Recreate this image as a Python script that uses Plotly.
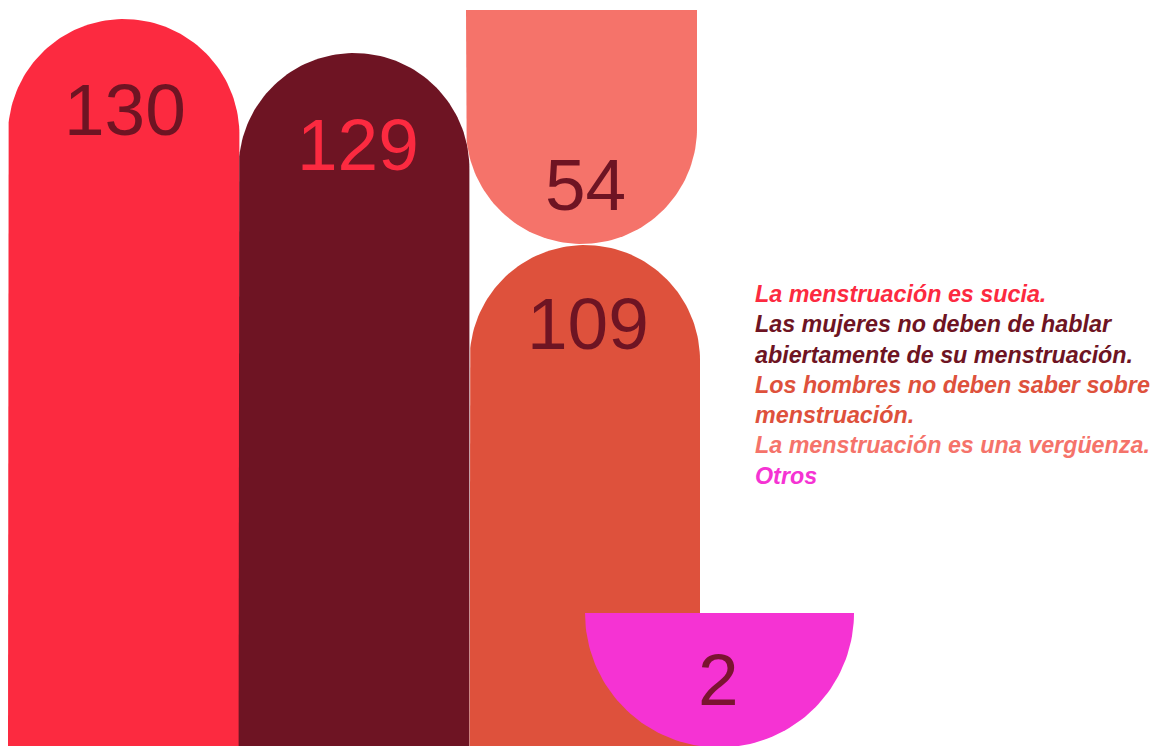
"""
Rounded-bar infographic: beliefs about menstruation.
Canvas axes run in pixel units (y up) so the arcs stay circular.
"""

import numpy as np
import plotly.graph_objects as go

# data
labels = [
    "La menstruación es sucia.",
    "Las mujeres no deben de hablar<br>abiertamente de su menstruación.",
    "Los hombres no deben saber sobre<br>menstruación.",
    "La menstruación es una vergüenza.",
    "Otros",
]
counts = [130, 129, 109, 54, 2]
bar_colors = ["#fc2a40", "#6e1423", "#de513c", "#f5736a", "#f533d3"]
count_colors = ["#6e1423", "#fc2a40", "#6e1423", "#6e1423", "#7a1430"]

# layout of the pieces (pixel canvas, y measured from the bottom)
W, H = 1153, 746
x_left = [8, 238.6, 469.6, 466, 585]
x_right = [239.4, 469.4, 700, 697, 854]
y_flat = [0, 0, 0, 736, 133]        # straight end of each piece
y_round = [727, 693, 501, 502, -1.5]  # apex of the rounded end
label_x = [125, 358, 588, 585, 718]
label_y = [637, 602, 423, 562, 67]

legend_x = 753
legend_top = 467


def rounded_piece(x0, x1, yf, yr):
    r = (x1 - x0) / 2
    cx = (x0 + x1) / 2
    sign = 1 if yr > yf else -1
    cy = yr - sign * r
    t = np.linspace(np.pi, 0, 90)
    xs = [x0] + list(cx + r * np.cos(t)) + [x1, x0]
    ys = [yf] + list(cy + sign * r * np.sin(t)) + [yf, yf]
    return xs, ys


fig = go.Figure()
for i in range(len(counts)):
    xs, ys = rounded_piece(x_left[i], x_right[i], y_flat[i], y_round[i])
    fig.add_trace(go.Scatter(
        x=xs, y=ys, mode="lines", fill="toself",
        fillcolor=bar_colors[i], line=dict(width=0),
        hoverinfo="skip", showlegend=False,
    ))
    fig.add_annotation(
        x=label_x[i], y=label_y[i], text=str(counts[i]),
        showarrow=False, xanchor="center", yanchor="middle",
        font=dict(size=73, color=count_colors[i], family="Liberation Sans, Arial"),
    )

# legend as one block of coloured text
legend_lines = []
for lab, col in zip(labels, bar_colors):
    for part in lab.split("<br>"):
        legend_lines.append(f'<span style="color:{col}">{part}</span>')

fig.add_annotation(
    x=legend_x, y=legend_top, text="<br>".join(legend_lines), showarrow=False,
    xanchor="left", yanchor="top", align="left",
    font=dict(size=23.3, family="Liberation Sans, Arial",
              weight="bold", style="italic"),
)

fig.update_layout(
    width=W, height=H,
    margin=dict(l=0, r=0, t=0, b=0),
    paper_bgcolor="white", plot_bgcolor="white",
    xaxis=dict(range=[0, W], visible=False, fixedrange=True),
    yaxis=dict(range=[0, H], visible=False, fixedrange=True),
    showlegend=False,
)

fig.write_html("out.html", config={"displayModeBar": False},
               post_script="document.body.style.margin='0';")
